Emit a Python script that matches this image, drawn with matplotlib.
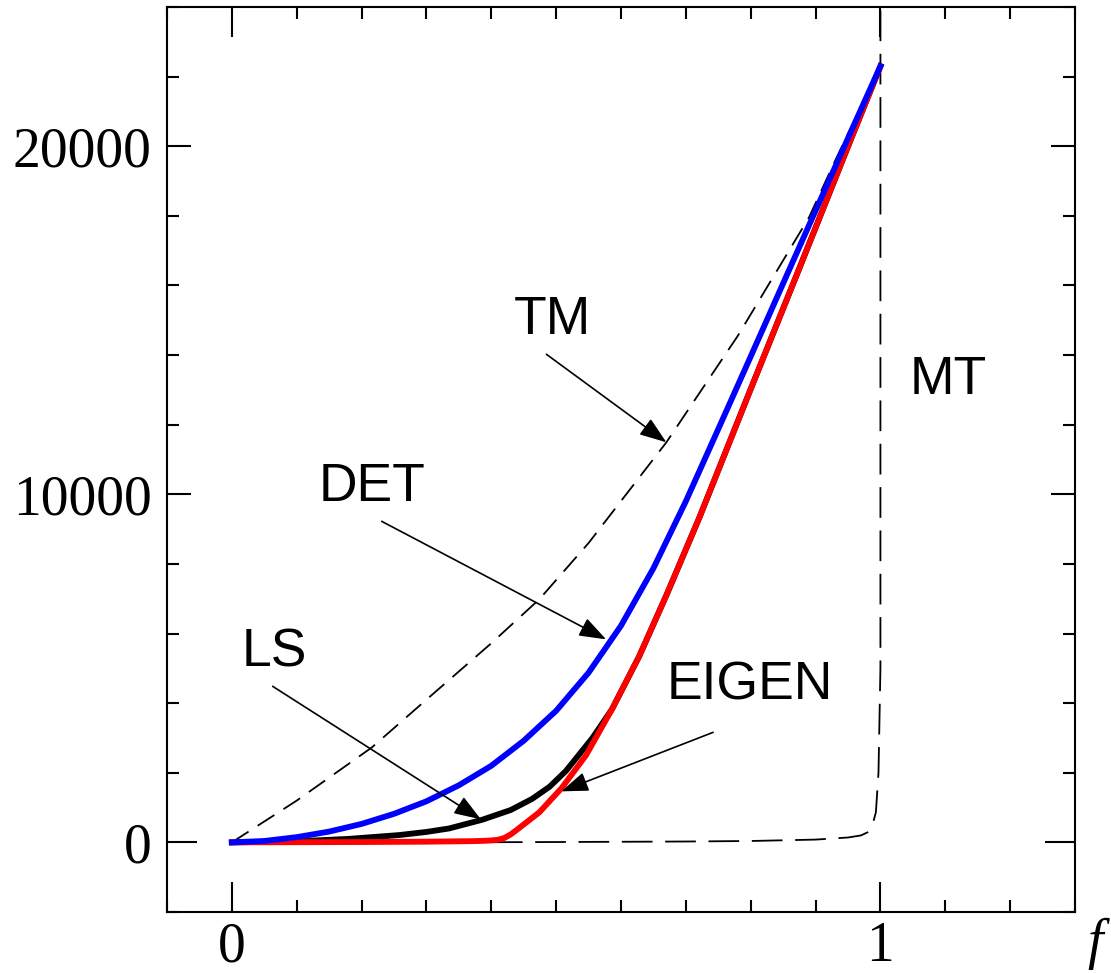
import matplotlib
matplotlib.use("Agg")
import matplotlib.pyplot as plt
from matplotlib.ticker import FixedLocator, MultipleLocator

# Curve samples (f, value)
f_det = [0, 0.05, 0.1, 0.15, 0.2, 0.25, 0.3, 0.35, 0.4, 0.45, 0.5, 0.55, 0.6,
         0.65, 0.7, 0.75, 0.8, 0.85, 0.9, 0.95, 1.0]
y_det = [0, 40, 150, 310, 530, 820, 1180, 1640, 2200, 2920, 3780, 4875, 6225,
         7875, 9800, 11875, 13960, 16060, 18150, 20230, 22300]

f_ls = [0, 0.1, 0.18, 0.258, 0.3, 0.335, 0.386, 0.43, 0.463, 0.49, 0.515, 0.556,
        0.586, 0.628, 0.67, 0.721, 0.798, 0.875, 0.952, 1.0]
y_ls = [0, 30, 100, 210, 300, 400, 650, 930, 1250, 1600, 2050, 3000,
        3822, 5345, 7100, 9339, 12931, 16494, 20086, 22300]

f_eig = [0, 0.2, 0.3, 0.37, 0.39, 0.4, 0.41, 0.42, 0.43, 0.438, 0.474, 0.508, 0.546,
         0.586, 0.628, 0.67, 0.721, 0.798, 0.875, 0.952, 1.0]
y_eig = [0, 10, 20, 35, 45, 55, 75, 125, 230, 340, 862, 1550, 2500,
         3822, 5345, 7100, 9339, 12931, 16494, 20086, 22300]

f_tm = [0, 0.1, 0.216, 0.3, 0.4, 0.474, 0.55, 0.67, 0.78, 0.89, 0.929, 1.0]
y_tm = [0, 1200, 2730, 4100, 5720, 6983, 8600, 11494, 14550, 17960, 19540, 22300]

f_mt = [0, 0.3, 0.5, 0.7, 0.8, 0.9, 0.95, 0.97, 0.98, 0.987, 0.993, 0.997, 1.0, 1.0]
y_mt = [0, 0, 10, 25, 40, 80, 140, 200, 287, 450, 862, 2000, 5000, 25000]

x_major = [0, 1]
x_major_labels = ["0", "1"]
y_major = [0, 10000, 20000]
y_major_labels = ["0", "10000", "20000"]

labels = ["TM", "MT", "DET", "LS", "EIGEN"]
label_pos = [(0.494, 15000), (1.105, 13276), (0.216, 10201), (0.066, 5460), (0.798, 4511)]
arrow_from = [(0.485, 14023), None, (0.231, 9224), (0.063, 4483), (0.742, 3161)]
arrow_to = [(0.670, 11494), None, (0.577, 5833), (0.384, 661), (0.508, 1466)]

fig = plt.figure(figsize=(11.11, 9.73), dpi=100)
ax = fig.add_axes([0.1503, 0.0627, 0.8173, 0.9301])

ax.plot(f_mt, y_mt, color="black", lw=1.3, dashes=(17, 7), zorder=2)
ax.plot(f_tm, y_tm, color="black", lw=1.3, dashes=(11, 6), zorder=2)
ax.plot(f_ls, y_ls, color="black", lw=4.2, solid_joinstyle="round", zorder=3)
ax.plot(f_eig, y_eig, color="#ff0000", lw=4.2, solid_joinstyle="round", zorder=4)
ax.plot(f_det, y_det, color="#0000ff", lw=4.2, solid_joinstyle="round", zorder=5)

for name, pos, a0, a1 in zip(labels, label_pos, arrow_from, arrow_to):
    ax.text(pos[0], pos[1], name, family="Liberation Sans", fontsize=38.5,
            ha="center", va="center", zorder=6)
    if a0 is not None:
        ax.annotate("", xy=a1, xytext=a0,
                    arrowprops=dict(arrowstyle="-|>,head_length=0.83,head_width=0.3",
                                    mutation_scale=20, lw=1.2, color="black",
                                    shrinkA=0, shrinkB=0),
                    zorder=6)

ax.set_xlim(-0.1, 1.3)
ax.set_ylim(-2000, 24000)

ax.xaxis.set_major_locator(FixedLocator(x_major))
ax.xaxis.set_minor_locator(MultipleLocator(0.1))
ax.set_xticklabels(x_major_labels)
ax.yaxis.set_major_locator(FixedLocator(y_major))
ax.yaxis.set_minor_locator(MultipleLocator(2000))
ax.set_yticklabels(y_major_labels)

for s in ax.spines.values():
    s.set_linewidth(1.5)

ax.tick_params(which="both", direction="in", top=True, right=True, width=1.5,
               labelsize=40)
ax.tick_params(axis="x", which="major", length=21.6, pad=6.5)
ax.tick_params(axis="y", which="major", length=17, pad=11)
ax.tick_params(which="minor", length=8.3)
for lab in ax.get_xticklabels() + ax.get_yticklabels():
    lab.set_family("Liberation Serif")

zero_tick = ax.yaxis.get_major_ticks()[0]
zero_tick.tick1line.set_markersize(21.6)
zero_tick.tick2line.set_markersize(21.6)

ax.text(1.022, -0.035, "f", transform=ax.transAxes, family="Liberation Serif",
        style="italic", fontsize=40, ha="center", va="center", clip_on=False)

fig.savefig("out.png", dpi=100)
